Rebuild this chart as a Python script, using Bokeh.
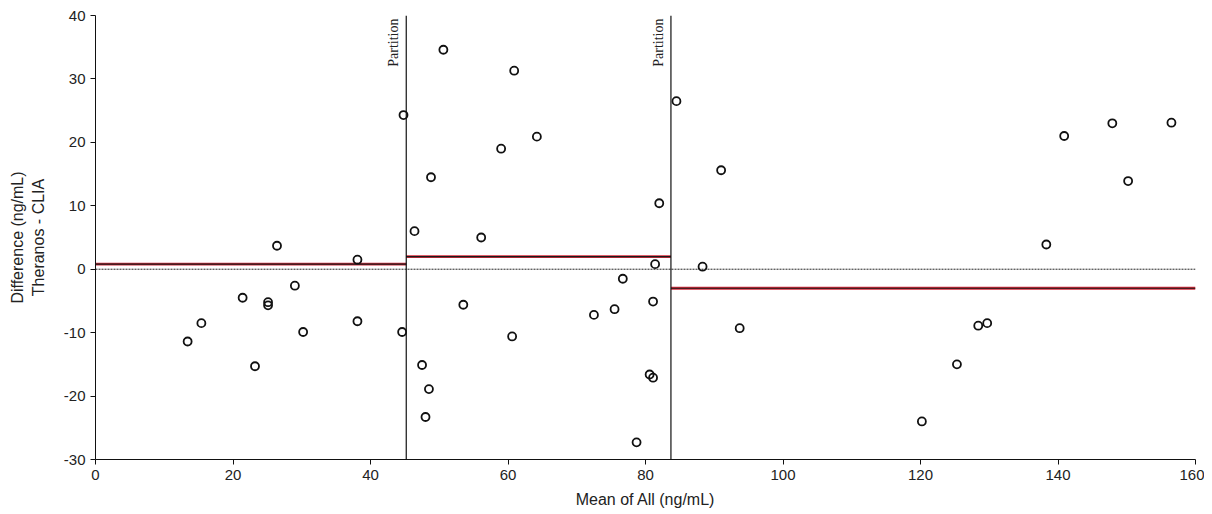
import math
from bokeh.plotting import figure
from bokeh.models import Range1d, Span, FixedTicker, ColumnDataSource, PrintfTickFormatter
from bokeh.core.properties import value
from bokeh.embed import file_html
from bokeh.resources import INLINE

# ---- data ----
mean_all = [13.4, 15.4, 21.4, 23.2, 25.1, 25.1, 26.4, 29.0, 30.2, 38.1, 38.1, 44.6, 44.8,
            46.4, 47.5, 48.0, 48.5, 48.8, 50.6, 53.5, 56.1, 59.0, 60.6, 60.9, 64.2,
            72.5, 75.5, 76.7, 78.7, 80.6, 81.1, 81.1, 81.4, 82.0,
            84.5, 88.3, 91.0, 93.7, 120.2, 125.3, 128.4, 129.7, 138.3, 140.9, 147.9, 150.2, 156.5]
difference = [-11.4, -8.5, -4.5, -15.3, -5.2, -5.7, 3.7, -2.6, -9.9, -8.2, 1.5, -9.9, 24.3,
              6.0, -15.1, -23.3, -18.9, 14.5, 34.6, -5.6, 5.0, 19.0, -10.6, 31.3, 20.9,
              -7.2, -6.3, -1.5, -27.3, -16.6, -17.1, -5.1, 0.8, 10.4,
              26.5, 0.4, 15.6, -9.3, -24.0, -15.0, -8.9, -8.5, 3.9, 21.0, 23.0, 13.9, 23.1]
partitions = [45.2, 83.7]
segment_means = [0.8, 2.0, -3.0]
x_limits = [0, 160]
y_limits = [-30, 40]
x_ticks = [0, 20, 40, 60, 80, 100, 120, 140, 160]
y_ticks = [-30, -20, -10, 0, 10, 20, 30, 40]

seg_start = [x_limits[0]] + partitions
seg_end = partitions + [x_limits[1]]

p = figure(width=1204, height=512, output_backend="svg", toolbar_location=None,
           x_range=Range1d(*x_limits), y_range=Range1d(*y_limits),
           min_border_left=95, min_border_right=9, min_border_top=15, min_border_bottom=53)
p.outline_line_color = None
p.xgrid.visible = False
p.ygrid.visible = False
p.background_fill_color = "white"

for ax in (p.xaxis[0], p.yaxis[0]):
    ax.axis_line_color = "#111111"
    ax.axis_line_width = 1
    ax.major_tick_line_color = "#111111"
    ax.major_tick_out = 5
    ax.major_tick_in = 0
    ax.minor_tick_line_color = None
    ax.major_label_text_font = "Liberation Sans"
    ax.major_label_text_font_size = "15px"
    ax.major_label_text_color = "#222222"
    ax.axis_label_text_font = "Liberation Sans"
    ax.axis_label_text_font_size = "16px"
    ax.axis_label_text_font_style = "normal"
    ax.axis_label_text_color = "#222222"
    ax.formatter = PrintfTickFormatter(format="%d")

p.xaxis.ticker = FixedTicker(ticks=x_ticks)
p.yaxis.ticker = FixedTicker(ticks=y_ticks)
p.xaxis.axis_label = "Mean of All (ng/mL)"
p.yaxis.axis_label = "Difference (ng/mL)\nTheranos - CLIA"
p.xaxis.major_label_standoff = 5
p.yaxis.major_label_standoff = 5
p.xaxis.axis_label_standoff = 8
p.yaxis.axis_label_standoff = 14

# zero reference line
p.segment(x0=[x_limits[0]], x1=[x_limits[1]], y0=[0], y1=[0],
          line_color="#222222", line_width=1, line_dash="2 1")

# segment mean lines (red under black)
p.segment(x0=seg_start, x1=seg_end, y0=segment_means, y1=segment_means,
          line_color="#d42a3a", line_width=2.8)
p.segment(x0=seg_start, x1=seg_end, y0=segment_means, y1=segment_means,
          line_color="#1a1a1a", line_width=1.2)

# partition lines
for xp in partitions:
    p.add_layout(Span(location=xp, dimension="height", line_color="#111111", line_width=1.2))

p.text(x=partitions, y=[y_limits[1]] * len(partitions), text=["Partition"] * len(partitions),
       angle=math.pi / 2, text_align="right", text_baseline="bottom",
       x_offset=-5, y_offset=3,
       text_font=value("Liberation Serif"), text_font_size="14px", text_color="#222222")

# data points
src = ColumnDataSource(dict(x=mean_all, y=difference))
p.scatter("x", "y", source=src, marker="circle", size=8,
          fill_alpha=0, line_color="#111111", line_width=1.8)

open("out.html", "w").write(file_html(p, INLINE))
